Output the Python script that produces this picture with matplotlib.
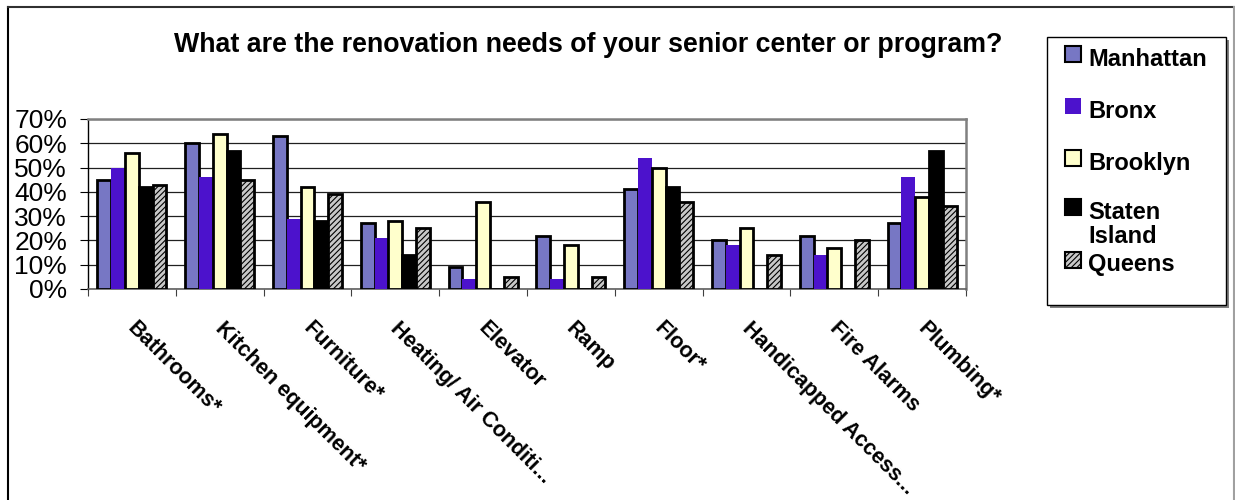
import numpy as np
import matplotlib
matplotlib.use("Agg")
import matplotlib.pyplot as plt
from matplotlib.patches import Rectangle
from matplotlib.lines import Line2D
import matplotlib.transforms as mtransforms

plt.rcParams['font.family'] = ['Liberation Sans', 'DejaVu Sans']
plt.rcParams['hatch.linewidth'] = 0.8

title = "What are the renovation needs of your senior center or program?"
categories = ["Bathrooms*", "Kitchen equipment*", "Furniture*", "Heating/ Air Conditi...",
              "Elevator", "Ramp", "Floor*", "Handicapped Access...", "Fire Alarms", "Plumbing*"]
series = ["Manhattan", "Bronx", "Brooklyn", "Staten Island", "Queens"]

# percent of programs reporting each need
manhattan = [45, 60, 63, 27, 9, 22, 41, 20, 22, 27]
bronx     = [50, 46, 29, 21, 4, 4, 54, 18, 14, 46]
brooklyn  = [56, 64, 42, 28, 36, 18, 50, 25, 17, 38]
staten    = [42, 57, 28, 14, 0, 0, 42, 0, 0, 57]
queens    = [43, 45, 39, 25, 5, 5, 36, 14, 20, 34]
yticks = [0, 10, 20, 30, 40, 50, 60, 70]

values = [manhattan, bronx, brooklyn, staten, queens]
styles = [
    dict(color='#7777c4', edgecolor='black', linewidth=2.0),
    dict(color='#4c12cc', edgecolor='#4c12cc', linewidth=0),
    dict(color='#ffffcc', edgecolor='black', linewidth=2.0),
    dict(color='black', edgecolor='black', linewidth=2.0),
    dict(color='#c8c8c8', edgecolor='black', linewidth=2.0, hatch='//////'),
]

W, H = 1235, 500
fig = plt.figure(figsize=(W / 100, H / 100), dpi=100)
fig.patch.set_facecolor('white')

def px(x, y, w=0, h=0):
    # pixel box (top-left origin) -> figure fraction
    return (x / W, 1 - (y + h) / H, w / W, h / H)

ax = fig.add_axes(px(88, 119, 878, 170))

x = np.arange(len(categories))
bw = 0.157
for i, (vals, st) in enumerate(zip(values, styles)):
    ax.bar(x + (i - 2) * bw, vals, width=bw, zorder=3, **st)

ax.set_xlim(-0.5, len(categories) - 0.5)
ax.set_ylim(0, 70)
ax.set_yticks(yticks)
ax.set_yticklabels([f"{v}%" for v in yticks], fontsize=19)
ax.yaxis.grid(True, color='#202020', linewidth=0.9, zorder=0)
ax.tick_params(axis='y', direction='out', length=6, width=0.8, pad=9)

ax.set_xticks(np.arange(-0.5, len(categories), 1.0))
ax.set_xticklabels([])
ax.tick_params(axis='x', direction='out', length=5, width=0.8, color='#404040')

for side in ['top', 'right']:
    ax.spines[side].set_color('#808080')
    ax.spines[side].set_linewidth(1.8)
ax.spines['left'].set_color('black')
ax.spines['left'].set_linewidth(1.0)
ax.spines['bottom'].set_color('#606060')
ax.spines['bottom'].set_linewidth(1.2)

# slanted category labels under each group
offset = mtransforms.ScaledTranslation(0.06, -0.29, fig.dpi_scale_trans)
for xi, lab in zip(x, categories):
    ax.text(xi, 0, lab, transform=ax.transData + offset, rotation=-45,
            rotation_mode='anchor', ha='left', va='top',
            fontsize=15.5, fontweight='bold')

fig.text(588 / W, 1 - 45 / H, title, ha='center', va='center',
         fontsize=19.3, fontweight='bold')

# legend box with drop shadow
fig.add_artist(Rectangle(px(1050, 40)[:2], 179 / W, -268 / H, transform=fig.transFigure,
                         facecolor='#808080', edgecolor='none', zorder=1))
fig.add_artist(Rectangle(px(1047, 37)[:2], 179 / W, -268 / H, transform=fig.transFigure,
                         facecolor='white', edgecolor='black', linewidth=1.0, zorder=2))
handle_y = [54, 106, 158, 207, 259.5]
for name, st, hy in zip(series, styles, handle_y):
    fx, fy, fw, fh = px(1065, hy - 8, 16, 16)
    kw = dict(st)
    fc = kw.pop('color')
    kw['linewidth'] = min(kw.get('linewidth', 1.5), 1.5)
    fig.add_artist(Rectangle((fx, fy), fw, fh, transform=fig.transFigure,
                             facecolor=fc, zorder=3, **kw))
    lab = name.replace(' ', '\n')
    fig.text(1088 / W, 1 - (hy - 6) / H, lab, ha='left', va='top', fontsize=17,
             fontweight='bold', linespacing=1.05, zorder=4)

# outer chart border
fig.add_artist(Line2D([8 / W, 8 / W], [0, 1 - 7 / H], transform=fig.transFigure,
                      color='black', linewidth=1.5))
fig.add_artist(Line2D([8 / W, 1233.5 / W], [1 - 7 / H, 1 - 7 / H], transform=fig.transFigure,
                      color='#303030', linewidth=1.5))
fig.add_artist(Line2D([1233.5 / W, 1233.5 / W], [0, 1 - 7 / H], transform=fig.transFigure,
                      color='#a0a0a0', linewidth=1.5))

fig.savefig('out.png', dpi=100)
